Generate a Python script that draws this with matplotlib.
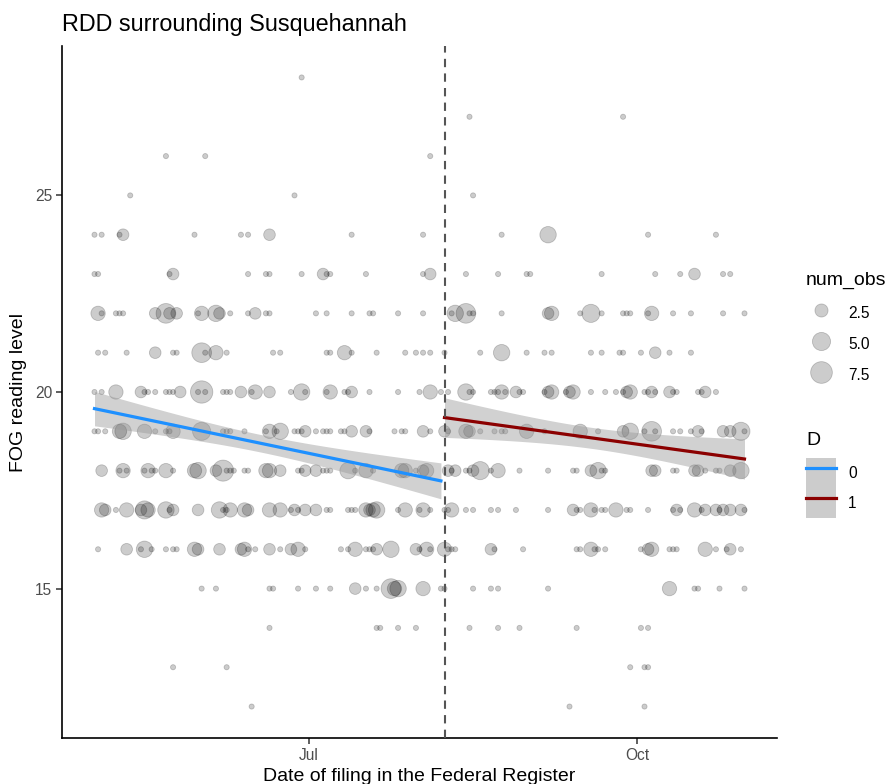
import numpy as np
import pandas as pd
import matplotlib
matplotlib.use("Agg")
import matplotlib.pyplot as plt
import matplotlib.dates as mdates
from matplotlib.lines import Line2D
from matplotlib.patches import Patch
from matplotlib.legend_handler import HandlerTuple

plt.rcParams['font.family'] = ['Liberation Sans', 'DejaVu Sans']

# cutoff date of the RDD (dashed line)
cutoff = pd.Timestamp("2015-08-08")

# each FOG level: (days from cutoff, num_obs)
fog28 = [(-40, 1)]
fog27 = [(7, 1), (50, 1)]
fog26 = [(-78, 1), (-67, 1), (-4, 1)]
fog25 = [(-88, 1), (-42, 1), (8, 1)]
fog24 = [(-98, 1), (-96, 1), (-91, 1), (-90, 2), (-70, 1), (-57, 1), (-55, 1), (-49, 2), (-26, 1), (-6, 1),
         (16, 1), (29, 4), (57, 1), (76, 1)]
fog23 = [(-98, 1), (-97, 1), (-77, 1), (-76, 2), (-55, 1), (-50, 1), (-49, 1), (-40, 1), (-34, 2), (-33, 1),
         (-32, 1), (-22, 1), (-6, 1), (-4, 2), (6, 1), (15, 1), (23, 1), (24, 1), (44, 1), (59, 1), (66, 1),
         (70, 2), (78, 1), (80, 1)]
fog22 = [(-97, 3), (-96, 1), (-92, 1), (-91, 1), (-90, 1), (-81, 2), (-78, 6), (-77, 2), (-75, 2), (-69, 1),
         (-68, 3), (-64, 4), (-63, 2), (-60, 1), (-55, 1), (-53, 2), (-50, 1), (-49, 1), (-36, 1), (-33, 1),
         (-26, 1), (-21, 1), (-20, 1), (-13, 1), (-6, 1), (2, 1), (3, 4), (6, 6), (7, 1), (8, 1), (16, 1),
         (29, 2), (30, 3), (38, 1), (41, 5), (44, 1), (50, 1), (51, 1), (52, 1), (57, 1), (58, 3), (64, 1),
         (69, 1), (78, 1), (84, 1)]
fog21 = [(-97, 1), (-95, 1), (-89, 1), (-81, 2), (-76, 1), (-75, 1), (-68, 6), (-67, 1), (-64, 3), (-61, 1),
         (-48, 1), (-46, 1), (-33, 1), (-32, 1), (-28, 3), (-26, 1), (-19, 1), (-11, 1), (-8, 1), (-6, 1),
         (-4, 1), (0, 1), (10, 1), (16, 4), (23, 1), (28, 1), (30, 1), (41, 1), (44, 1), (49, 1), (50, 1),
         (55, 1), (59, 2), (63, 1), (69, 1)]
fog20 = [(-98, 1), (-96, 1), (-92, 3), (-85, 2), (-84, 1), (-83, 1), (-81, 1), (-78, 1), (-77, 1), (-76, 1),
         (-74, 2), (-69, 1), (-68, 8), (-67, 1), (-62, 1), (-61, 1), (-60, 1), (-57, 2), (-54, 1), (-53, 3),
         (-49, 2), (-43, 1), (-40, 4), (-39, 1), (-33, 1), (-32, 3), (-28, 1), (-27, 1), (-26, 2), (-21, 1),
         (-13, 1), (-7, 1), (-4, 3), (-1, 1), (1, 1), (6, 4), (7, 1), (8, 1), (13, 1), (14, 1), (15, 1),
         (16, 3), (17, 1), (20, 2), (21, 1), (22, 1), (28, 1), (29, 2), (30, 3), (34, 1), (35, 2), (36, 3),
         (41, 1), (45, 1), (48, 1), (50, 1), (51, 2), (52, 3), (56, 1), (57, 1), (58, 2), (59, 1), (63, 2),
         (64, 1), (65, 1), (71, 1), (72, 1), (73, 2), (76, 1)]
fog19 = [(-98, 1), (-97, 1), (-95, 1), (-91, 3), (-90, 4), (-84, 3), (-81, 1), (-78, 1), (-77, 1), (-76, 3),
         (-68, 5), (-62, 1), (-61, 1), (-60, 1), (-56, 1), (-50, 1), (-49, 3), (-47, 1), (-46, 4), (-42, 1),
         (-41, 1), (-40, 1), (-39, 2), (-36, 1), (-34, 1), (-33, 1), (-32, 1), (-29, 1), (-28, 1), (-26, 2),
         (-22, 2), (-21, 1), (-14, 1), (-12, 1), (-11, 1), (-6, 2), (-4, 1), (0, 2), (1, 1), (6, 3), (7, 2),
         (10, 1), (14, 1), (16, 1), (17, 1), (23, 3), (28, 1), (38, 3), (43, 1), (50, 2), (52, 4), (56, 1),
         (58, 6), (59, 1), (64, 1), (66, 1), (69, 1), (71, 2), (72, 1), (78, 2), (80, 2), (83, 5), (84, 1)]
fog18 = [(-96, 2), (-91, 1), (-90, 3), (-89, 1), (-84, 1), (-83, 3), (-82, 1), (-81, 1), (-78, 3), (-76, 1),
         (-70, 3), (-69, 4), (-64, 2), (-62, 7), (-61, 1), (-60, 1), (-59, 1), (-56, 1), (-55, 1), (-50, 3),
         (-49, 3), (-46, 2), (-41, 1), (-40, 1), (-39, 2), (-36, 2), (-34, 1), (-33, 1), (-32, 1), (-27, 4),
         (-25, 1), (-22, 3), (-20, 1), (-12, 3), (-11, 3), (-8, 1), (-6, 2), (-5, 3), (1, 2), (2, 1), (3, 2),
         (6, 1), (7, 1), (8, 2), (10, 5), (13, 1), (15, 3), (21, 1), (29, 1), (36, 1), (37, 1), (41, 2),
         (43, 4), (44, 1), (45, 1), (58, 2), (59, 2), (64, 1), (65, 1), (70, 2), (71, 2), (73, 1), (76, 1),
         (77, 1), (80, 2), (83, 4)]
fog17 = [(-96, 3), (-95, 2), (-92, 1), (-89, 3), (-85, 2), (-84, 5), (-83, 3), (-78, 4), (-77, 1), (-76, 2),
         (-69, 2), (-63, 4), (-62, 1), (-61, 1), (-60, 3), (-56, 3), (-55, 2), (-49, 3), (-46, 3), (-43, 1),
         (-42, 2), (-41, 1), (-39, 2), (-36, 2), (-33, 1), (-32, 1), (-27, 1), (-26, 1), (-25, 1), (-22, 3),
         (-21, 2), (-20, 3), (-19, 4), (-13, 1), (-11, 3), (-7, 1), (-6, 3), (-4, 1), (0, 1), (1, 1), (2, 3),
         (6, 1), (8, 1), (13, 1), (15, 1), (20, 1), (29, 1), (36, 2), (37, 1), (38, 1), (41, 3), (42, 1),
         (44, 1), (45, 1), (48, 3), (51, 1), (52, 1), (57, 1), (64, 1), (65, 2), (66, 1), (70, 3), (72, 1),
         (73, 2), (76, 2), (77, 1), (78, 2), (80, 2), (83, 2), (84, 1)]
fog16 = [(-97, 1), (-89, 2), (-85, 1), (-84, 4), (-82, 1), (-78, 1), (-76, 1), (-75, 1), (-70, 3), (-69, 2),
         (-63, 2), (-57, 2), (-56, 3), (-55, 1), (-53, 1), (-49, 2), (-46, 1), (-43, 2), (-41, 3), (-39, 1),
         (-29, 1), (-27, 1), (-25, 3), (-22, 1), (-21, 1), (-20, 1), (-19, 2), (-15, 4), (-8, 2), (-7, 1),
         (-5, 3), (-4, 1), (0, 3), (1, 1), (2, 1), (3, 1), (13, 2), (14, 1), (22, 1), (37, 1), (38, 1),
         (41, 3), (42, 1), (43, 1), (45, 1), (55, 1), (57, 2), (58, 3), (63, 1), (64, 1), (65, 1), (73, 3),
         (76, 1), (79, 1), (80, 2), (83, 1)]
fog15 = [(-68, 1), (-64, 1), (-49, 1), (-48, 1), (-41, 1), (-36, 1), (-32, 1), (-25, 2), (-22, 1), (-19, 1),
         (-15, 6), (-14, 3), (-13, 4), (-6, 3), (-1, 1), (0, 1), (8, 1), (13, 1), (15, 1), (29, 1), (63, 3),
         (70, 1), (71, 1), (77, 1), (84, 1)]
fog14 = [(-49, 1), (-19, 1), (-18, 1), (-13, 1), (-8, 1), (7, 1), (15, 1), (21, 1), (37, 1), (55, 1), (57, 1)]
fog13 = [(-76, 1), (-61, 1), (52, 1), (56, 1), (57, 1)]
fog12 = [(-54, 1), (35, 1), (56, 1)]

levels = {28: fog28, 27: fog27, 26: fog26, 25: fog25, 24: fog24, 23: fog23, 22: fog22, 21: fog21,
          20: fog20, 19: fog19, 18: fog18, 17: fog17, 16: fog16, 15: fog15, 14: fog14, 13: fog13, 12: fog12}

recs = []
for lvl, pts in levels.items():
    for d, n in pts:
        recs.append((d, lvl, n))
data = pd.DataFrame(recs, columns=["day", "fog", "num_obs"])
data["date"] = cutoff + pd.to_timedelta(data["day"], unit="D")
data["D"] = (data["day"] >= 0).astype(int)
c0 = mdates.date2num(cutoff)


def msize(n):
    # ggplot-like area scale, diameter in px -> points^2
    d_px = 6 + 6.5 * np.sqrt(np.asarray(n, dtype=float) - 1)
    return (d_px * 0.72 - 0.6) ** 2


def lm_band(x, y, w, xs):
    W = w.sum()
    xm = (w * x).sum() / W
    ym = (w * y).sum() / W
    sxx = (w * (x - xm) ** 2).sum()
    b = (w * (x - xm) * (y - ym)).sum() / sxx
    a = ym - b * xm
    s2 = (w * (y - a - b * x) ** 2).sum() / (W - 2)
    se = np.sqrt(s2 * (1 / W + (xs - xm) ** 2 / sxx))
    fit = a + b * xs
    return fit, fit - 1.97 * se, fit + 1.97 * se


fig = plt.figure(figsize=(8.91, 7.84), dpi=100)
ax = fig.add_axes([62 / 891, 1 - 738 / 784, (777 - 62) / 891, (738 - 46) / 784])

ax.scatter(c0 + data["day"], data["fog"], s=msize(data["num_obs"]),
           facecolor=(0, 0, 0, 0.2), edgecolor=(0, 0, 0, 0.2), linewidth=0.6, zorder=2)

colors = {0: "#1E90FF", 1: "#8B0000"}
for g in [0, 1]:
    sub = data[data.D == g]
    x = sub["day"].values.astype(float)
    y = sub["fog"].values.astype(float)
    w = sub["num_obs"].values.astype(float)
    xs = np.linspace(x.min(), x.max(), 80)
    fit, lo, hi = lm_band(x, y, w, xs)
    ax.fill_between(c0 + xs, lo, hi, color="#999999", alpha=0.45, linewidth=0, zorder=3)
    ax.plot(c0 + xs, fit, color=colors[g], linewidth=2.3, zorder=4)

ax.axvline(c0, color="#555555", linestyle=(0, (4, 3)), linewidth=1.5, zorder=5)

ax.set_xlim(c0 - 107.1, c0 + 93.1)
ax.set_ylim(11.2, 28.8)
ax.set_yticks([15, 20, 25])
ax.xaxis.set_major_locator(mdates.MonthLocator(bymonth=[7, 10]))
ax.xaxis.set_major_formatter(mdates.DateFormatter("%b"))

for s in ["top", "right"]:
    ax.spines[s].set_visible(False)
for s in ["left", "bottom"]:
    ax.spines[s].set_linewidth(1.2)
ax.tick_params(length=4, width=1.1, color="#333333", labelsize=11.2, labelcolor="#4d4d4d", pad=3)

ax.set_xlabel("Date of filing in the Federal Register", fontsize=14, labelpad=4)
ax.set_ylabel("FOG reading level", fontsize=14, labelpad=6)
fig.text(62 / 891, 1 - 24 / 784, "RDD surrounding Susquehannah", fontsize=16.8, ha="left", va="center")

# size legend
size_vals = [2.5, 5.0, 7.5]
h1 = [Line2D([], [], linestyle="none", marker="o", markersize=np.sqrt(msize(v)),
             markerfacecolor=(0, 0, 0, 0.2), markeredgecolor=(0, 0, 0, 0.2), markeredgewidth=0.6)
      for v in size_vals]
leg1 = fig.legend(h1, ["2.5", "5.0", "7.5"], title="num_obs", loc="upper left",
                  bbox_to_anchor=(806 / 891, 1 - 272 / 784), frameon=False, fontsize=11.2,
                  title_fontsize=14, alignment="left", handlelength=1.93, handleheight=2.05,
                  labelspacing=0.42, handletextpad=0.77, borderpad=0, borderaxespad=0)
leg1._legend_box.sep = 8.6

# D legend
h2 = [(Patch(facecolor="#cccccc", edgecolor="none"), Line2D([], [], color=colors[g], linewidth=2.3))
      for g in [0, 1]]
leg2 = fig.legend(h2, ["0", "1"], title="D", loc="upper left",
                  bbox_to_anchor=(806 / 891, 1 - 432 / 784), frameon=False, fontsize=11.2,
                  title_fontsize=14, alignment="left", handlelength=1.93, handleheight=2.6,
                  labelspacing=0, handletextpad=0.77, borderpad=0, borderaxespad=0,
                  handler_map={tuple: HandlerTuple(ndivide=1, pad=0)})
leg2._legend_box.sep = 6.6

fig.savefig("out.png", dpi=100)
